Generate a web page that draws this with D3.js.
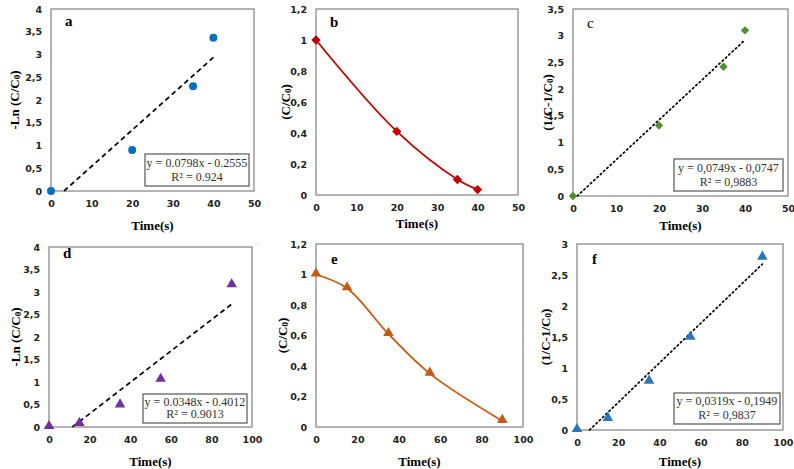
<!DOCTYPE html>
<html><head><meta charset="utf-8">
<script src="https://cdn.jsdelivr.net/npm/d3@7/dist/d3.min.js"></script>
<style>body{margin:0;background:#fff}svg{display:block}</style>
</head><body>
<svg id="c" width="794" height="469"></svg>
<script>
// ---- data ----
const timeA = [0, 20, 35, 40];
const lnA   = [0, 0.9, 2.3, 3.37];
const timeB = [0, 20, 35, 40];
const ratioB = [1, 0.41, 0.1, 0.035];
const timeC = [0, 20, 35, 40];
const invC  = [0, 1.32, 2.42, 3.1];
const timeD = [0, 15, 35, 55, 90];
const lnD   = [0, 0.07, 0.48, 1.05, 3.15];
const timeE = [0, 15, 35, 55, 90];
const ratioE = [1, 0.91, 0.61, 0.35, 0.04];
const timeF = [0, 15, 35, 55, 90];
const invF  = [0, 0.18, 0.78, 1.49, 2.78];
const ticksA = [0, 0.5, 1, 1.5, 2, 2.5, 3, 3.5, 4];
const ticksB = [0, 0.2, 0.4, 0.6, 0.8, 1, 1.2];
const ticksC = [0, 0.5, 1, 1.5, 2, 2.5, 3, 3.5];
const ticksF = [0, 0.5, 1, 1.5, 2, 2.5, 3];
const xTicks50 = [0, 10, 20, 30, 40, 50];
const xTicks100 = [0, 20, 40, 60, 80, 100];
const fitA = {slope: 0.0798, icpt: -0.2555, eq: "y = 0.0798x - 0.2555", r2: "R² = 0.924"};
const fitC = {slope: 0.0749, icpt: -0.0747, eq: "y = 0,0749x - 0,0747", r2: "R² = 0,9883"};
const fitD = {slope: 0.0348, icpt: -0.4012, eq: "y = 0.0348x - 0.4012", r2: "R² = 0.9013"};
const fitF = {slope: 0.0319, icpt: -0.1949, eq: "y = 0,0319x - 0,1949", r2: "R² = 0,9837"};

// ---- layout ----
const panels = [
  {id:"a", L:51, R:254, T:9, B:191, tY:230, xmax:50, xt:xTicks50, ymax:4, yt:ticksA, xs:timeA, ys:lnA, color:"#0070C0", marker:"circle", ms:50,
   ylab:"ln", ylx:14, letter:[65,26], fit:fitA, dash:"5,3.5", box:[145,154,104,32]},
  {id:"b", L:316, R:518, T:9, B:195, tY:228, xmax:50, xt:xTicks50, ymax:1.2, yt:ticksB, xs:timeB, ys:ratioB, color:"#C00000", marker:"diamond", ms:55,
   ylab:"ratio", ylx:285, letter:[330,27], smooth:true},
  {id:"c", L:573, R:788, T:9, B:196, tY:230, xmax:50, xt:xTicks50, ymax:3.5, yt:ticksC, xs:timeC, ys:invC, color:"#4E8F2F", marker:"diamond", ms:45,
   ylab:"inv", ylx:547, letter:[587,28], fit:fitC, dash:"1.5,3", box:[674,159,109,32], letterFont:"normal"},
  {id:"d", L:49, R:252, T:247, B:427, tY:466, xmax:100, xt:xTicks100, ymax:4, yt:ticksA, xs:timeD, ys:lnD, color:"#7030A0", marker:"triangle", ms:48,
   ylab:"ln", ylx:15, letter:[63,258], fit:fitD, dash:"5,3.5", box:[143,394,104,29]},
  {id:"e", L:316, R:523, T:244, B:427, tY:466, xmax:100, xt:xTicks100, ymax:1.2, yt:ticksB, xs:timeE, ys:ratioE, color:"#C55A11", marker:"triangle", ms:48,
   ylab:"ratio", ylx:282, letter:[331,264], smooth:true},
  {id:"f", L:577, R:783, T:244, B:430, tY:466, xmax:100, xt:xTicks100, ymax:3, yt:ticksF, xs:timeF, ys:invF, color:"#2E75B6", marker:"triangle", ms:48,
   ylab:"inv", ylx:545, letter:[592,264], fit:fitF, dash:"1.5,3", box:[674,393,106,31]}
];

const svg = d3.select("#c");
const fmt = d => String(d).replace(".", ",");
const tickFont = "'DejaVu Sans', Verdana, sans-serif";
const serif = "'Liberation Serif', 'Times New Roman', serif";

function yLabel(g, kind, x, cy) {
  const t = g.append("text").attr("transform", `translate(${x},${cy}) rotate(-90)`)
    .attr("text-anchor", "middle").attr("dominant-baseline", "central")
    .attr("font-family", serif).attr("font-weight", "bold").attr("font-size", 13).attr("fill", "#000");
  if (kind === "ln") { t.append("tspan").text("-Ln (C/C"); }
  else if (kind === "ratio") { t.append("tspan").text("(C/C"); }
  else { t.append("tspan").text("(1/C-1/C"); }
  t.append("tspan").attr("font-size", 9).attr("dy", 3).text("0");
  t.append("tspan").attr("dy", -3).text(")");
}

panels.forEach(p => {
  const g = svg.append("g");
  const x = d3.scaleLinear().domain([0, p.xmax]).range([p.L, p.R]);
  const y = d3.scaleLinear().domain([0, p.ymax]).range([p.B, p.T]);

  // frame
  g.append("rect").attr("x", p.L).attr("y", p.T).attr("width", p.R - p.L).attr("height", p.B - p.T)
    .attr("fill", "none").attr("stroke", "#8a8a8a").attr("stroke-width", 1.3);

  // axes
  const xa = g.append("g").attr("transform", `translate(0,${p.B})`)
    .call(d3.axisBottom(x).tickValues(p.xt).tickSize(0).tickPadding(9).tickFormat(fmt));
  const ya = g.append("g").attr("transform", `translate(${p.L},0)`)
    .call(d3.axisLeft(y).tickValues(p.yt).tickSize(0).tickPadding(9).tickFormat(fmt));
  [xa, ya].forEach(a => {
    a.select(".domain").remove();
    a.selectAll("text").attr("font-family", tickFont).attr("font-weight", "bold")
      .attr("font-size", 9.5).attr("fill", "#222");
  });

  // axis titles
  g.append("text").attr("x", (p.L + p.R) / 2).attr("y", p.tY).attr("text-anchor", "middle")
    .attr("font-family", serif).attr("font-weight", "bold").attr("font-size", 13).text("Time(s)");
  yLabel(g, p.ylab, p.ylx, (p.T + p.B) / 2);

  // panel letter
  g.append("text").attr("x", p.letter[0]).attr("y", p.letter[1]).attr("font-family", serif)
    .attr("font-weight", p.letterFont || "bold").attr("font-size", 15).text(p.id);

  // trendline
  if (p.fit) {
    const x0 = Math.max(0, -p.fit.icpt / p.fit.slope);
    const x1 = d3.max(p.xs);
    g.append("line").attr("x1", x(x0)).attr("y1", y(p.fit.slope * x0 + p.fit.icpt))
      .attr("x2", x(x1)).attr("y2", y(p.fit.slope * x1 + p.fit.icpt))
      .attr("stroke", "#000").attr("stroke-width", 1.7).attr("stroke-dasharray", p.dash)
      .attr("stroke-linecap", p.dash.startsWith("1.5") ? "round" : "butt");
  }

  // smooth line
  const pts = p.xs.map((v, i) => [v, p.ys[i]]);
  if (p.smooth) {
    g.append("path").attr("d", d3.line().x(d => x(d[0])).y(d => y(d[1])).curve(d3.curveCatmullRom.alpha(0.5))(pts))
      .attr("fill", "none").attr("stroke", p.color).attr("stroke-width", 1.8);
  }

  // markers
  const sym = p.marker === "circle" ? d3.symbolCircle : p.marker === "diamond" ? d3.symbolDiamond2 : d3.symbolTriangle;
  g.selectAll(".m").data(pts).join("path")
    .attr("transform", d => `translate(${x(d[0])},${y(d[1]) + (p.marker === "triangle" ? -1 : 0)})`)
    .attr("d", d3.symbol().type(sym).size(p.ms)).attr("fill", p.color);

  // equation box
  if (p.fit) {
    const [bx, by, bw, bh] = p.box;
    g.append("rect").attr("x", bx).attr("y", by).attr("width", bw).attr("height", bh)
      .attr("fill", "#fff").attr("stroke", "#555").attr("stroke-width", 1.2);
    g.append("text").attr("x", bx + bw / 2).attr("y", by + bh * 0.4).attr("text-anchor", "middle")
      .attr("font-family", serif).attr("font-size", 12).attr("fill", "#333").text(p.fit.eq);
    g.append("text").attr("x", bx + bw / 2).attr("y", by + bh * 0.83).attr("text-anchor", "middle")
      .attr("font-family", serif).attr("font-size", 12).attr("fill", "#333").text(p.fit.r2);
  }
});

// small stray mark seen in the reference
svg.append("text").attr("x", 257).attr("y", 247).attr("font-size", 8).attr("fill", "#bbb").text("-");
</script>
</body></html>
